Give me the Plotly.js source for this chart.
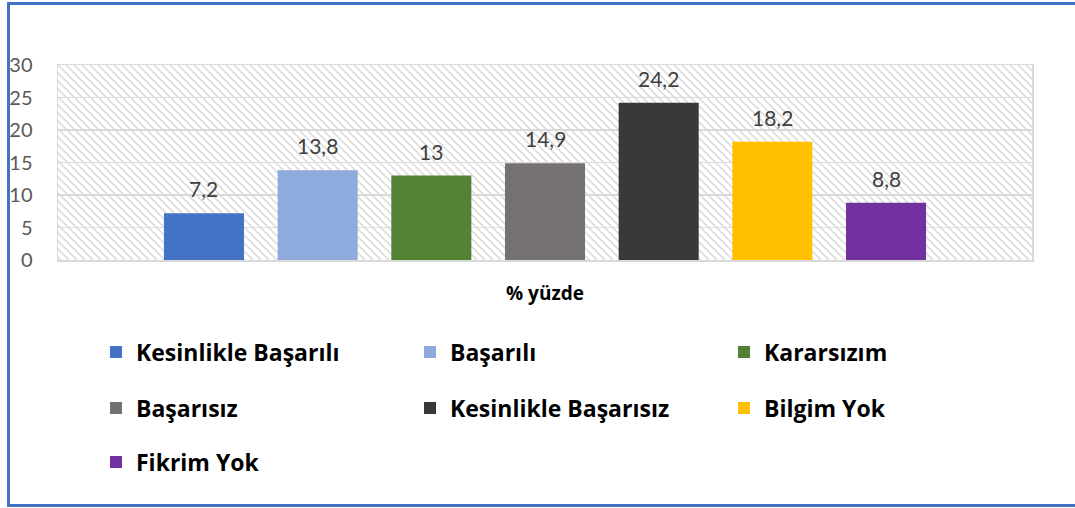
<!DOCTYPE html>
<html>
<head>
<meta charset="utf-8">
<script src="https://cdn.plot.ly/plotly-3.0.1.min.js"></script>
<style>html,body{margin:0;padding:0;background:#fff;}#chart{width:1075px;height:508px;}</style>
</head>
<body>
<div id="chart"></div>
<script>
// ---- data ----
const category = '% yüzde';
const seriesNames = ['Kesinlikle Başarılı', 'Başarılı', 'Kararsızım', 'Başarısız', 'Kesinlikle Başarısız', 'Bilgim Yok', 'Fikrim Yok'];
const seriesValues = [7.2, 13.8, 13, 14.9, 24.2, 18.2, 8.8];
const seriesColors = ['#4472C4', '#8FAADC', '#548235', '#767171', '#3B3838', '#FFC000', '#7030A0'];
const yTicks = [0, 5, 10, 15, 20, 25, 30];

// ---- layout constants ----
const W = 1075, H = 508;
const M = {l: 58, r: 43, t: 65, b: 248};
const plotW = W - M.l - M.r, plotH = H - M.t - M.b;
const bargap = 0.183, bargroupgap = 0.296;
const FONT = 'Lato, "Open Sans", sans-serif';
const BOLDFONT = '"Open Sans", Lato, sans-serif';

const px2x = p => (p - M.l) / plotW;
const px2y = p => (H - M.b - p) / plotH;

const legendRows = [[0, 1, 2], [3, 4, 5], [6]];
const legendIds = ['legend', 'legend2', 'legend3'];
const legendY = [352, 408, 462];

const traces = seriesNames.map((name, i) => {
  const row = legendRows.findIndex(r => r.includes(i));
  return {
    type: 'bar',
    name: name,
    x: [category],
    y: [seriesValues[i]],
    marker: {color: seriesColors[i], line: {width: 0}},
    legend: legendIds[row],
    hoverinfo: 'skip'
  };
});

const n = seriesValues.length;
const slotPx = plotW * (1 - bargap) / n;
const annotations = seriesValues.map((v, i) => ({
  x: category, y: v, xref: 'x', yref: 'y',
  text: String(v).replace('.', ','),
  showarrow: false,
  xshift: (i - (n - 1) / 2) * slotPx,
  yanchor: 'bottom', yshift: 10,
  font: {family: FONT, size: 21, color: '#404040'}
}));

// hatch background
const hatchSvg = `<svg xmlns='http://www.w3.org/2000/svg' width='${plotW}' height='${plotH}' viewBox='0 0 ${plotW} ${plotH}'>` +
  `<defs><pattern id='p' width='8' height='8' patternUnits='userSpaceOnUse'>` +
  `<path d='M-1,-1 L9,9 M-1,7 L1,9 M7,-1 L9,1' stroke='#d9d9d9' stroke-width='1.5'/></pattern></defs>` +
  `<rect width='${plotW}' height='${plotH}' fill='#ffffff'/><rect width='${plotW}' height='${plotH}' fill='url(#p)'/></svg>`;

const layout = {
  width: W, height: H,
  margin: M,
  paper_bgcolor: '#ffffff',
  plot_bgcolor: 'rgba(0,0,0,0)',
  barmode: 'group',
  bargap: bargap,
  bargroupgap: bargroupgap,
  showlegend: true,
  font: {family: FONT},
  xaxis: {
    type: 'category',
    range: [-0.5, 0.5],
    showgrid: false,
    showline: true, mirror: true, linecolor: '#d9d9d9', linewidth: 1.5,
    ticks: '',
    ticklabelstandoff: 16,
    tickfont: {family: BOLDFONT, size: 19, color: '#000000', weight: 'bold'},
    fixedrange: true
  },
  yaxis: {
    range: [0, 30],
    tickvals: yTicks,
    ticktext: yTicks.map(String),
    showgrid: true, gridcolor: '#d9d9d9', gridwidth: 1.5,
    zeroline: false,
    showline: true, mirror: true, linecolor: '#d9d9d9', linewidth: 1.5,
    ticks: '',
    ticklabelstandoff: 20,
    tickfont: {family: FONT, size: 20, color: '#595959'},
    fixedrange: true
  },
  images: [{
    source: 'data:image/svg+xml;charset=utf-8,' + encodeURIComponent(hatchSvg),
    xref: 'paper', yref: 'paper', x: 0, y: 1, sizex: 1, sizey: 1,
    xanchor: 'left', yanchor: 'top', sizing: 'stretch', layer: 'below'
  }],
  annotations: annotations,
  shapes: [{
    type: 'rect', xref: 'paper', yref: 'paper',
    x0: px2x(8.5), x1: px2x(1090), y0: px2y(505.5), y1: px2y(3.5),
    line: {color: '#4472C4', width: 3}, fillcolor: 'rgba(0,0,0,0)', layer: 'above'
  }]
};

legendIds.forEach((id, r) => {
  layout[id] = {
    orientation: 'h',
    x: px2x(96), xanchor: 'left',
    y: px2y(legendY[r]), yanchor: 'middle',
    entrywidth: 269, entrywidthmode: 'pixels',
    bgcolor: 'rgba(0,0,0,0)', borderwidth: 0,
    font: {family: BOLDFONT, size: 23, color: '#000000', weight: 'bold'},
    traceorder: 'normal'
  };
});

Plotly.newPlot('chart', traces, layout, {displayModeBar: false, staticPlot: true});
</script>
</body>
</html>
